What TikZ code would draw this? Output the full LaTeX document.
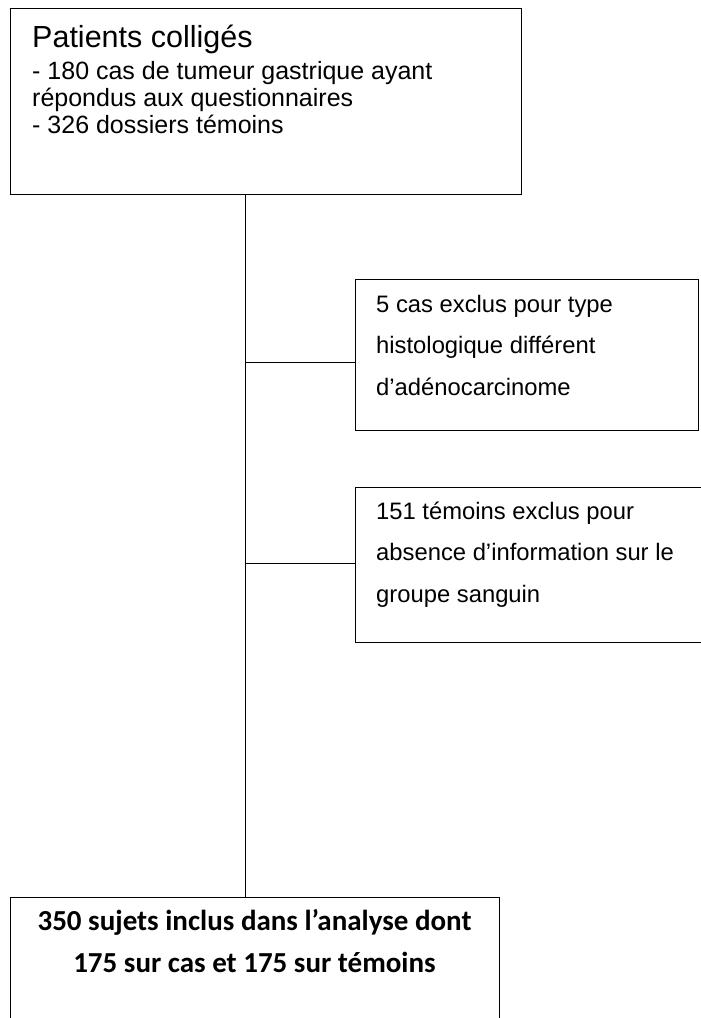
\documentclass[tikz,border=0pt]{standalone}
\usepackage{fontspec}
\setmainfont{Liberation Sans}
\newfontfamily\calibold{Carlito}[BoldFont=* Bold]
\usetikzlibrary{positioning}
\tikzset{
    box/.style={rectangle, draw=black, line width=1.1pt, anchor=north west, inner sep=0pt},
    boxtext/.style={anchor=base west, align=left, inner sep=0pt},
    link/.style={draw=black, line width=1pt}
}

\begin{document}
\begin{tikzpicture}[x=1pt, y=-1pt]

    \useasboundingbox (0,0) rectangle (701,1018);

    \node (colliges) [box, minimum width=511pt, minimum height=186pt] at (10,8) {};
    \node (exclus1) [box, minimum width=343pt, minimum height=151pt] at (355,279) {};
    \node (exclus2) [box, minimum width=360pt, minimum height=155pt] at (355,487) {};
    \node (inclus) [box, minimum width=489pt, minimum height=160pt] at (10,897) {};

    % anchors sit on the baseline of the last line
    \node (collitxt) [boxtext, font=\fontsize{25}{27}\selectfont] at (32,133)
        {{\fontsize{30.5}{32}\selectfont Patients colligés}\\[5pt]
         - 180 cas de tumeur gastrique ayant\\
         répondus aux questionnaires\\
         - 326 dossiers témoins};
    \node (excl1txt) [boxtext, font=\fontsize{23.8}{41.5}\selectfont] at (376,395)
        {5 cas exclus pour type\\
         histologique différent\\
         d’adénocarcinome};
    \node (excl2txt) [boxtext, font=\fontsize{23.8}{41.5}\selectfont] at (376,602)
        {151 témoins exclus pour\\
         absence d’information sur le\\
         groupe sanguin};
    \node (incltxt) [anchor=base, align=center, inner sep=0pt,
        font=\calibold\bfseries\fontsize{29}{42}\selectfont] at (254.5,972)
        {350 sujets inclus dans l’analyse dont\\
         175 sur cas et 175 sur témoins};

    \coordinate (trunk) at (245,0);
    \coordinate (fork1) at (245,362);
    \coordinate (fork2) at (245,563);

    \draw [link] (colliges.south -| trunk) -- (inclus.north -| trunk);
    \draw [link] (fork1) -- (fork1 -| exclus1.west);
    \draw [link] (fork2) -- (fork2 -| exclus2.west);

\end{tikzpicture}
\end{document}
